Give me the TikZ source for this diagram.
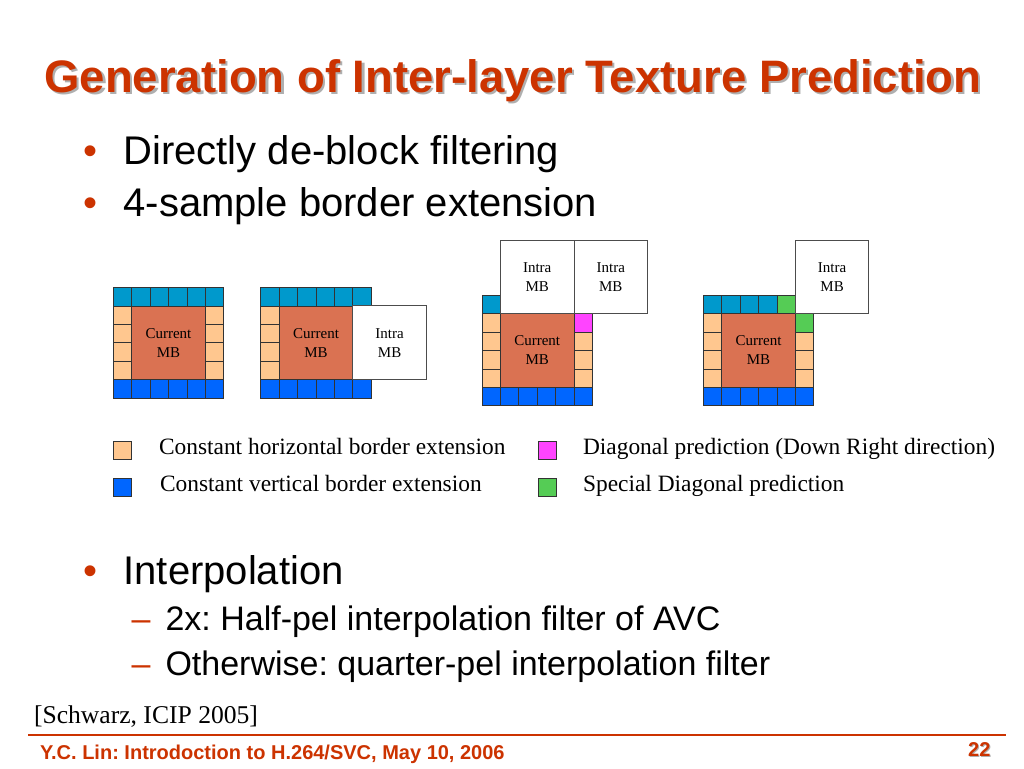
\documentclass[tikz,border=0pt]{standalone}
\usepackage{fontspec}
\setmainfont{Liberation Serif}
\setsansfont{Liberation Sans}
\frenchspacing
\newcommand{\shadowtext}[3]{\makebox[0pt][l]{\hspace*{#1}\raisebox{-#1}{\color{#2}#3}}#3}
\begin{document}
\begin{tikzpicture}[x=1pt,y=-1pt,
  cell/.style={draw=black!80,line width=0.8pt},
  cyancell/.style={cell,fill=cyanbar},
  bluecell/.style={cell,fill=bluebar},
  orcell/.style={cell,fill=orangecell},
  magcell/.style={cell,fill=magcell},
  grcell/.style={cell,fill=greencell},
  mbbox/.style={cell,fill=mbcol},
  intrabox/.style={draw=black!70,line width=0.9pt,fill=white},
  mblabel/.style={font=\fontsize{15}{19}\selectfont\rmfamily,align=center,text=black},
  legtext/.style={font=\fontsize{23.4}{27}\selectfont\rmfamily,anchor=base west},
  bul/.style={font=\fontsize{40}{48}\selectfont\sffamily,anchor=base west},
  subbul/.style={font=\fontsize{34}{40}\selectfont\sffamily,anchor=base west},
  marker/.style={text=titlered},
  titlefont/.style={font=\fontsize{45.5}{52}\selectfont\sffamily\bfseries,anchor=base}
]
\definecolor{titlered}{RGB}{204,51,0}
\definecolor{cyanbar}{RGB}{0,153,204}
\definecolor{bluebar}{RGB}{0,102,255}
\definecolor{orangecell}{RGB}{255,199,143}
\definecolor{magcell}{RGB}{255,68,255}
\definecolor{greencell}{RGB}{85,204,85}
\definecolor{mbcol}{RGB}{218,114,82}
\definecolor{shadowgray}{RGB}{175,175,175}
\useasboundingbox (0,0) rectangle (1024,768);
\fill[white] (0,0) rectangle (1024,768);
\def\s{18.4}
% Title (with drop shadow)
\node (title)[titlefont,text=titlered] at (513,92) {\shadowtext{2.2pt}{shadowgray}{Generation of Inter-layer Texture Prediction}};
% bullets
\node (b1m)[bul,marker] at (80,164) {•};
\node (b1)[bul] at (120,164) {Directly de-block filtering};
\node (b2m)[bul,marker] at (80,216) {•};
\node (b2)[bul] at (120,216) {4-sample border extension};
\node (b3m)[bul,marker] at (80,584) {•};
\node (b3)[bul] at (120,584) {Interpolation};
\node (b4m)[subbul,marker] at (128,630) {–};
\node (b4)[subbul] at (162,630) {2x: Half-pel interpolation filter of AVC};
\node (b5m)[subbul,marker] at (128,675) {–};
\node (b5)[subbul] at (162,675) {Otherwise: quarter-pel interpolation filter};
% Block 1
\begin{scope}[shift={(113.3,287.6)}]
  \foreach \i in {0,...,5} {\draw[cyancell] (\i*\s,0) rectangle ++(\s,\s);
                            \draw[bluecell] (\i*\s,5*\s) rectangle ++(\s,\s);}
  \foreach \j in {1,...,4} {\draw[orcell] (0,\j*\s) rectangle ++(\s,\s);
                            \draw[orcell] (5*\s,\j*\s) rectangle ++(\s,\s);}
  \draw[mbbox] (\s,\s) rectangle ++(4*\s,4*\s);
  \node (mb1)[mblabel] at (3*\s,3*\s) {Current\\MB};
\end{scope}
% Block 2
\begin{scope}[shift={(260.8,287.6)}]
  \foreach \i in {0,...,5} {\draw[cyancell] (\i*\s,0) rectangle ++(\s,\s);
                            \draw[bluecell] (\i*\s,5*\s) rectangle ++(\s,\s);}
  \foreach \j in {1,...,4} {\draw[orcell] (0,\j*\s) rectangle ++(\s,\s);}
  \draw[mbbox] (\s,\s) rectangle ++(4*\s,4*\s);
  \node (mb2)[mblabel] at (3*\s,3*\s) {Current\\MB};
  \draw[intrabox] (5*\s,0.95*\s) rectangle ++(4*\s,4.05*\s);
  \node (in2)[mblabel] at (7*\s,3*\s) {Intra\\MB};
\end{scope}
% Block 3
\begin{scope}[shift={(482,295.3)}]
  \draw[cyancell] (0,0) rectangle ++(\s,\s);
  \foreach \i in {0,...,5} {\draw[bluecell] (\i*\s,5*\s) rectangle ++(\s,\s);}
  \foreach \j in {1,...,4} {\draw[orcell] (0,\j*\s) rectangle ++(\s,\s);}
  \draw[magcell] (5*\s,\s) rectangle ++(\s,\s);
  \foreach \j in {2,...,4} {\draw[orcell] (5*\s,\j*\s) rectangle ++(\s,\s);}
  \draw[mbbox] (\s,\s) rectangle ++(4*\s,4*\s);
  \node (mb3)[mblabel] at (3*\s,3*\s) {Current\\MB};
  \draw[intrabox] (\s,-3*\s) rectangle ++(4*\s,4*\s);
  \draw[intrabox] (5*\s,-3*\s) rectangle ++(4*\s,4*\s);
  \node (in3a)[mblabel] at (3*\s,-\s) {Intra\\MB};
  \node (in3b)[mblabel] at (7*\s,-\s) {Intra\\MB};
\end{scope}
% Block 4
\begin{scope}[shift={(703.3,295.3)}]
  \foreach \i in {0,...,3} {\draw[cyancell] (\i*\s,0) rectangle ++(\s,\s);}
  \draw[grcell] (4*\s,0) rectangle ++(\s,\s);
  \foreach \i in {0,...,5} {\draw[bluecell] (\i*\s,5*\s) rectangle ++(\s,\s);}
  \foreach \j in {1,...,4} {\draw[orcell] (0,\j*\s) rectangle ++(\s,\s);}
  \draw[grcell] (5*\s,\s) rectangle ++(\s,\s);
  \foreach \j in {2,...,4} {\draw[orcell] (5*\s,\j*\s) rectangle ++(\s,\s);}
  \draw[mbbox] (\s,\s) rectangle ++(4*\s,4*\s);
  \node (mb4)[mblabel] at (3*\s,3*\s) {Current\\MB};
  \draw[intrabox] (5*\s,-3*\s) rectangle ++(4*\s,4*\s);
  \node (in4)[mblabel] at (7*\s,-\s) {Intra\\MB};
\end{scope}
% Legend
\draw[orcell] (113.5,441.5) rectangle ++(17.5,17.5);
\draw[bluecell] (113.5,478.5) rectangle ++(17.5,17.5);
\draw[magcell] (538.5,441.5) rectangle ++(17.5,17.5);
\draw[grcell] (538.5,478.5) rectangle ++(17.5,17.5);
\node (l1)[legtext] at (155.5,454) {Constant horizontal border extension};
\node (l2)[legtext] at (156.5,491) {Constant vertical border extension};
\node (l3)[legtext] at (579.5,454) {Diagonal prediction (Down Right direction)};
\node (l4)[legtext] at (579.5,491) {Special Diagonal prediction};
% reference
\node (ref)[font=\fontsize{25.6}{30}\selectfont\rmfamily,anchor=base west] at (30.5,723) {[Schwarz, ICIP 2005]};
% footer
\draw[titlered,line width=2pt] (28,734.5) -- (1006,734.5);
\node (foot)[font=\fontsize{20}{24}\selectfont\sffamily\bfseries,text=titlered,anchor=base west] at (36.5,759) {Y.C. Lin: Introdoction to H.264/SVC, May 10, 2006};
\node (page)[font=\fontsize{20}{24}\selectfont\sffamily\bfseries,text=titlered,anchor=base east] at (994,756) {\shadowtext{1pt}{shadowgray}{22}};
\end{tikzpicture}
\end{document}
